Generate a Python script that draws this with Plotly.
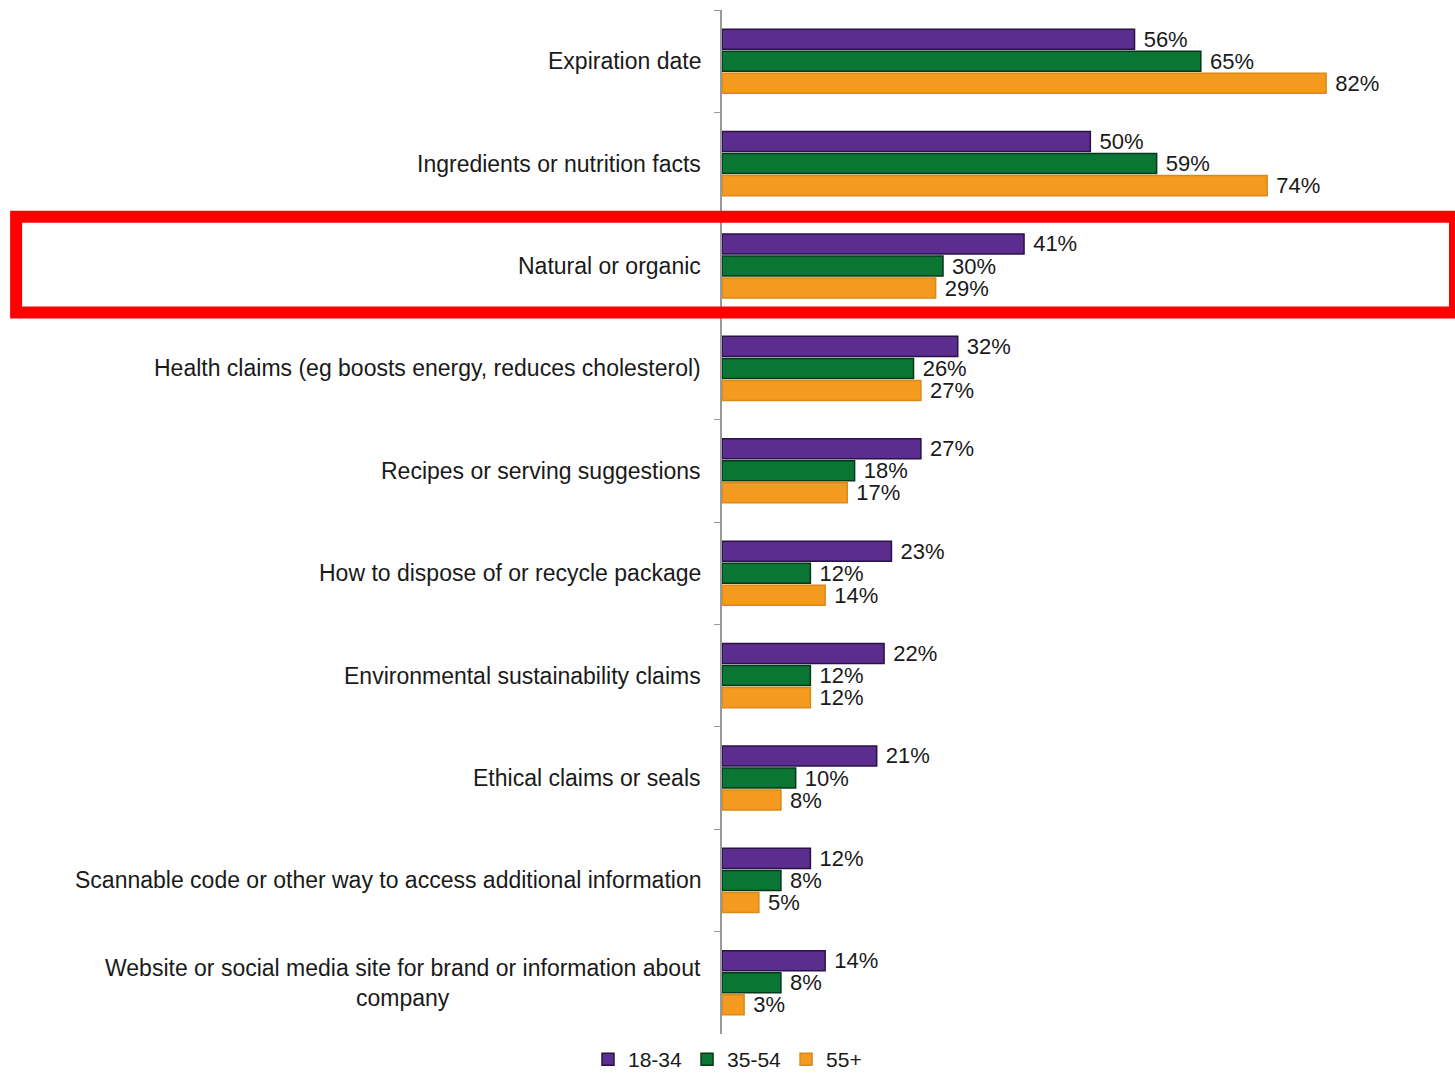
import plotly.graph_objects as go

categories = [
    "Expiration date",
    "Ingredients or nutrition facts",
    "Natural or organic",
    "Health claims (eg boosts energy, reduces cholesterol)",
    "Recipes or serving suggestions",
    "How to dispose of or recycle package",
    "Environmental sustainability claims",
    "Ethical claims or seals",
    "Scannable code or other way to access additional information",
    "Website or social media site for brand or information about<br>company",
]
series_names = ["18-34", "35-54", "55+"]
age_18_34 = [56, 50, 41, 32, 27, 23, 22, 21, 12, 14]
age_35_54 = [65, 59, 30, 26, 18, 12, 12, 10, 8, 8]
age_55_plus = [82, 74, 29, 27, 17, 14, 12, 8, 5, 3]
highlighted = "Natural or organic"

colors = ["#5b2d8e", "#0b7534", "#f39a1f"]
edge_colors = ["#2a1245", "#053818", "#d98a1a"]
values = [age_18_34, age_35_54, age_55_plus]

FONT = "Liberation Sans, Arial, sans-serif"

fig = go.Figure()
for name, vals, c, ec in zip(series_names, values, colors, edge_colors):
    fig.add_trace(go.Bar(
        y=categories, x=vals, name=name, orientation="h",
        marker=dict(color=c, line=dict(color=ec, width=1.5)),
        text=[f"\u00a0{v}%" for v in vals],
        textposition="outside",
        constraintext="none",
        textfont=dict(family=FONT, size=22, color="#1a1a1a"),
        cliponaxis=False,
    ))

for cat in categories:
    fig.add_annotation(
        x=0, xref="paper", y=cat, yref="y", text=cat,
        xanchor="right", yanchor="middle", align="center", xshift=-19,
        showarrow=False, font=dict(family=FONT, size=23, color="#1a1a1a"),
    )

idx = categories.index(highlighted)
fig.add_shape(
    type="rect", xref="paper", yref="y",
    x0=-0.963, x1=1.0, y0=idx - 0.48, y1=idx + 0.455,
    line=dict(color="#ff0000", width=12), fillcolor="rgba(0,0,0,0)",
)

fig.update_layout(
    width=1455, height=1080,
    margin=dict(l=722, r=0, t=10, b=46, autoexpand=False),
    paper_bgcolor="#ffffff", plot_bgcolor="#ffffff",
    barmode="group", bargap=0.355, bargroupgap=0.09,
    showlegend=True,
    legend=dict(
        orientation="h", xref="container", x=0.5, xanchor="center",
        yref="container", y=0.0, yanchor="bottom",
        font=dict(family=FONT, size=21, color="#1a1a1a"),
        itemwidth=30,
    ),
    font=dict(family=FONT),
)
fig.update_xaxes(range=[0, 99.5], visible=False, showgrid=False)
fig.update_yaxes(
    autorange="reversed", showticklabels=False, showgrid=False,
    showline=True, linecolor="#999999", linewidth=1.5,
    ticks="outside", tickson="boundaries", ticklen=6, tickcolor="#999999",
)

fig.write_html("out.html")
